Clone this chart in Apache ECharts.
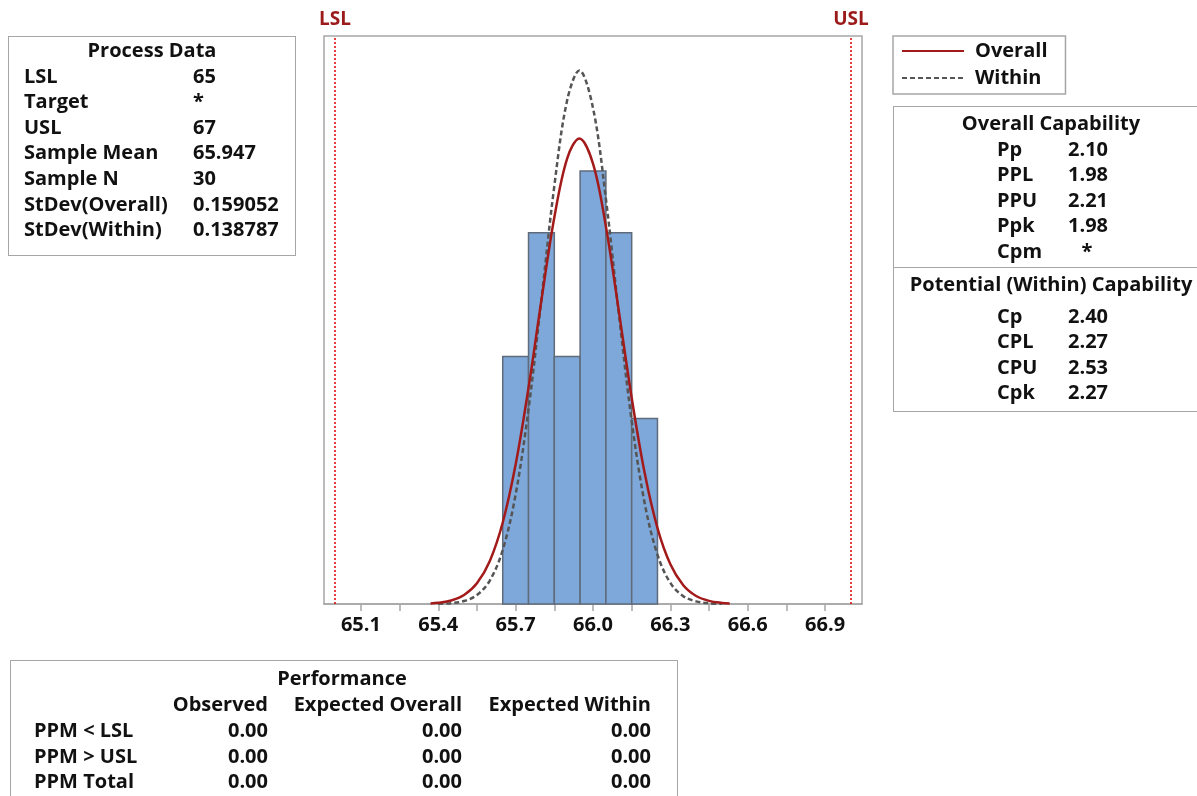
<!DOCTYPE html>
<html>
<head>
<meta charset="utf-8">
<script src="https://cdn.jsdelivr.net/npm/echarts@6/dist/echarts.min.js"></script>
<style>
  html, body { margin: 0; padding: 0; background: #fff; }
  #wrap { position: relative; width: 1197px; height: 796px; overflow: hidden; }
  #chart { position: absolute; left: 0; top: 0; width: 1197px; height: 796px; }
  .box { position: absolute; border: 1.5px solid #a6a6a6; box-sizing: border-box; }
  .t { position: absolute; font-family: "Open Sans", "Noto Sans", sans-serif; font-weight: bold; font-size: 20px; color: #111; white-space: nowrap; line-height: 26px; }
  .sep { position: absolute; height: 0; border-top: 1.5px solid #a6a6a6; }
</style>
</head>
<body>
<div id="wrap">
  <div id="chart"></div>
</div>
<script>
// ---------- data ----------
const specNames = ['LSL', 'USL'];
const specValues = [65, 67];

const binEdges = [65.65, 65.75, 65.85, 65.95, 66.05, 66.15, 66.25];
const binCounts = [4, 6, 4, 7, 6, 3];

const overallX = [65.37, 65.40, 65.45, 65.50, 65.55, 65.60, 65.65, 65.70, 65.75, 65.80, 65.85, 65.90, 65.947, 66.00, 66.05, 66.10, 66.15, 66.20, 66.25, 66.30, 66.35, 66.40, 66.45, 66.50, 66.53];
const overallY = [0.01, 0.02, 0.057, 0.145, 0.334, 0.696, 1.317, 2.254, 3.495, 4.909, 6.248, 7.204, 7.525, 7.119, 6.101, 4.738, 3.333, 2.124, 1.226, 0.641, 0.304, 0.13, 0.051, 0.018, 0.009];

const withinX = [65.40, 65.45, 65.50, 65.55, 65.60, 65.65, 65.70, 65.75, 65.80, 65.85, 65.90, 65.947, 66.00, 66.05, 66.10, 66.15, 66.20, 66.25, 66.30, 66.35, 66.40, 66.45, 66.50];
const withinY = [0.004, 0.014, 0.048, 0.144, 0.379, 0.873, 1.77, 3.149, 4.922, 6.755, 8.144, 8.624, 8.017, 6.548, 4.697, 2.959, 1.637, 0.796, 0.34, 0.127, 0.042, 0.012, 0.003];

const xTickLabels = ['65.1', '65.4', '65.7', '66.0', '66.3', '66.6', '66.9'];
const xMinorTicks = ['65.25', '65.55', '65.85', '66.15', '66.45', '66.75'];

const processLabels = ['LSL', 'Target', 'USL', 'Sample Mean', 'Sample N', 'StDev(Overall)', 'StDev(Within)'];
const processValues = ['65', '*', '67', '65.947', '30', '0.159052', '0.138787'];

const overallCapLabels = ['Pp', 'PPL', 'PPU', 'Ppk', 'Cpm'];
const overallCapValues = ['2.10', '1.98', '2.21', '1.98', '*'];

const withinCapLabels = ['Cp', 'CPL', 'CPU', 'Cpk'];
const withinCapValues = ['2.40', '2.27', '2.53', '2.27'];

const perfColumns = ['Observed', 'Expected Overall', 'Expected Within'];
const perfRows = ['PPM < LSL', 'PPM > USL', 'PPM Total'];
const perfObserved = ['0.00', '0.00', '0.00'];
const perfExpOverall = ['0.00', '0.00', '0.00'];
const perfExpWithin = ['0.00', '0.00', '0.00'];

// ---------- HTML tables ----------
const wrap = document.getElementById('wrap');
function box(l, t, w, h) {
  const d = document.createElement('div');
  d.className = 'box';
  Object.assign(d.style, { left: l + 'px', top: t + 'px', width: w + 'px', height: h + 'px' });
  wrap.appendChild(d);
}
function txt(s, x, cy, align) {
  const d = document.createElement('div');
  d.className = 't';
  d.textContent = s;
  d.style.top = (cy - 13) + 'px';
  if (align === 'center') { d.style.left = (x - 300) + 'px'; d.style.width = '600px'; d.style.textAlign = 'center'; }
  else if (align === 'right') { d.style.left = (x - 300) + 'px'; d.style.width = '300px'; d.style.textAlign = 'right'; }
  else { d.style.left = x + 'px'; }
  wrap.appendChild(d);
}
function sep(l, t, w) {
  const d = document.createElement('div');
  d.className = 'sep';
  Object.assign(d.style, { left: l + 'px', top: t + 'px', width: w + 'px' });
  wrap.appendChild(d);
}

// Process Data
box(8, 36, 288, 220);
txt('Process Data', 152, 50, 'center');
processLabels.forEach((s, i) => {
  txt(s, 24, 75.5 + i * 25.6, 'left');
  txt(processValues[i], 193, 75.5 + i * 25.6, 'left');
});

// Capability
box(893, 106, 320, 306);
txt('Overall Capability', 1051, 123, 'center');
overallCapLabels.forEach((s, i) => {
  txt(s, 997, 148.5 + i * 25.6, 'left');
  if (overallCapValues[i] === '*') txt('*', 1087, 148.5 + i * 25.6, 'center');
  else txt(overallCapValues[i], 1068, 148.5 + i * 25.6, 'left');
});
sep(893, 267, 320);
txt('Potential (Within) Capability', 1051, 284, 'center');
withinCapLabels.forEach((s, i) => {
  txt(s, 997, 316 + i * 25.4, 'left');
  txt(withinCapValues[i], 1068, 316 + i * 25.4, 'left');
});

// Performance
box(10, 660, 668, 160);
txt('Performance', 342, 678, 'center');
const colRight = [268, 462, 651];
perfColumns.forEach((s, j) => txt(s, colRight[j], 704, 'right'));
perfRows.forEach((s, i) => {
  const cy = 730 + i * 25.6;
  txt(s, 34, cy, 'left');
  txt(perfObserved[i], colRight[0], cy, 'right');
  txt(perfExpOverall[i], colRight[1], cy, 'right');
  txt(perfExpWithin[i], colRight[2], cy, 'right');
});

// ---------- chart ----------
const chart = echarts.init(document.getElementById('chart'), null, { renderer: 'canvas' });
const FONT = '"Open Sans", "Noto Sans", sans-serif';

const histData = binCounts.map((c, i) => [binEdges[i], binEdges[i + 1], c]);

const option = {
  animation: false,
  textStyle: { fontFamily: FONT },
  legend: {
    orient: 'vertical',
    left: 893,
    top: 36,
    data: ['Overall', 'Within'],
    itemWidth: 62,
    itemHeight: 14,
    itemGap: 7,
    padding: [5, 18, 6, 8],
    borderColor: '#a6a6a6',
    borderWidth: 1.5,
    itemStyle: { opacity: 0 },
    textStyle: { fontFamily: FONT, fontWeight: 'bold', fontSize: 20, color: '#111', padding: [0, 0, 0, 6] }
  },
  grid: {
    left: 324, right: 335, top: 36, bottom: 192,
    show: true, borderColor: '#a6a6a6', borderWidth: 1.5, containLabel: false
  },
  xAxis: {
    type: 'value',
    min: 64.957,
    max: 67.043,
    splitLine: { show: false },
    axisLine: { show: true, onZero: false, lineStyle: { color: '#a6a6a6', width: 1.5 } },
    axisTick: {
      show: true, inside: false, length: 7,
      customValues: xTickLabels.concat(xMinorTicks).map(Number),
      lineStyle: { color: '#a6a6a6', width: 1.5 }
    },
    axisLabel: {
      customValues: xTickLabels.map(Number),
      formatter: v => xTickLabels.find(s => Math.abs(Number(s) - v) < 1e-6) || '',
      margin: 11,
      fontFamily: FONT, fontWeight: 'bold', fontSize: 20, color: '#111'
    }
  },
  yAxis: {
    type: 'value', min: 0, max: 9.18, show: false, splitLine: { show: false }
  },
  series: [
    {
      name: 'Histogram',
      type: 'custom',
      data: histData,
      encode: { x: [0, 1], y: 2 },
      z: 1,
      renderItem: function (params, api) {
        const p0 = api.coord([api.value(0), api.value(2)]);
        const p1 = api.coord([api.value(1), 0]);
        return {
          type: 'rect',
          shape: { x: p0[0], y: p0[1], width: p1[0] - p0[0], height: p1[1] - p0[1] },
          style: { fill: '#7ea8da', stroke: '#5f6b7a', lineWidth: 1.5 }
        };
      },
      markLine: {
        silent: true,
        symbol: ['none', 'none'],
        lineStyle: { color: '#dd0000', type: [2, 2], width: 1.5 },
        label: {
          show: true, position: 'end', distance: 7,
          formatter: p => p.name,
          fontFamily: FONT, fontWeight: 'bold', fontSize: 19, color: '#9b1b1b'
        },
        data: specNames.map((n, i) => ({ name: n, xAxis: specValues[i] }))
      }
    },
    {
      name: 'Within',
      type: 'line',
      data: withinX.map((x, i) => [x, withinY[i]]),
      smooth: 0.35,
      symbol: 'none',
      showSymbol: false,
      z: 3,
      itemStyle: { color: '#555555' },
      lineStyle: { color: '#555555', width: 2.5, type: [5, 3] }
    },
    {
      name: 'Overall',
      type: 'line',
      data: overallX.map((x, i) => [x, overallY[i]]),
      smooth: 0.35,
      symbol: 'none',
      showSymbol: false,
      z: 4,
      itemStyle: { color: '#a31a1a' },
      lineStyle: { color: '#a31a1a', width: 2.5 }
    }
  ]
};
chart.setOption(option);
</script>
</body>
</html>
